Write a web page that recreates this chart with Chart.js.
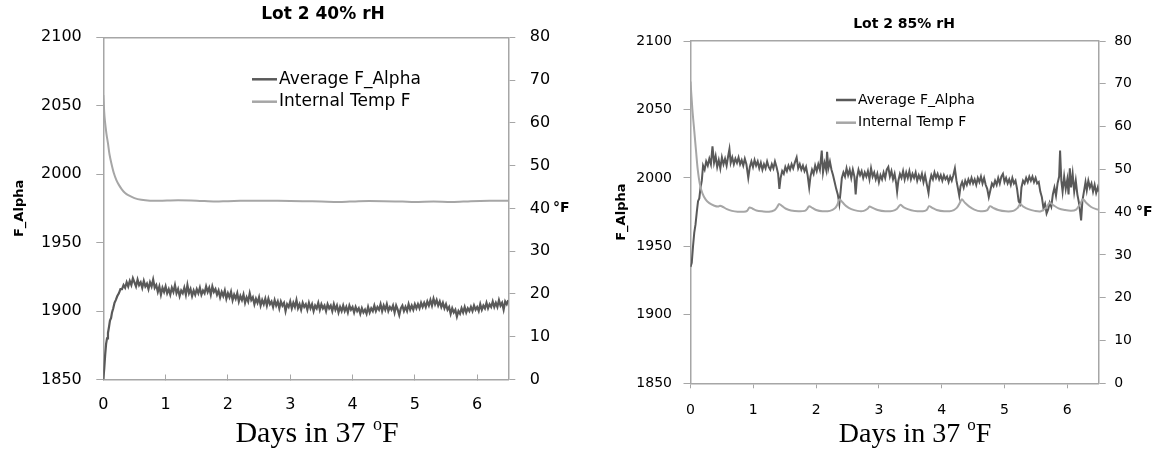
<!DOCTYPE html>
<html>
<head>
<meta charset="utf-8">
<title>Lot 2 F_Alpha vs internal temperature</title>
<script src="https://cdn.jsdelivr.net/npm/chart.js@4.4.1/dist/chart.umd.min.js"></script>
<style>
  html, body { margin: 0; padding: 0; background: #fff; }
  #wrap { position: relative; width: 1158px; height: 450px; overflow: hidden; }
  #wrap canvas { position: absolute; top: 0; }
  #chart40 { left: 0; }
  #chart85 { left: 580px; }
</style>
</head>
<body>
<div id="wrap">
  <canvas id="chart40" width="580" height="450"></canvas>
  <canvas id="chart85" width="578" height="450"></canvas>
</div>
<script>
// Axis ranges and tick steps (same for both panels)
var dayRange = [0, 6.5];
var dayStep = 1;
var alphaRange = [1850, 2100];
var alphaStep = 50;
var tempRange = [0, 80];
var tempStep = 10;

var seriesNames = ['Average F_Alpha', 'Internal Temp F'];

// Lot 2 40% rH - [day, value]
var lot40Alpha = [
  [0,1850],[0.015,1858],[0.03,1868],[0.045,1876],[0.06,1880],[0.075,1884],[0.09,1888],[0.107,1893],
  [0.125,1895],[0.14,1899],[0.16,1902],[0.18,1906],[0.2,1908],[0.225,1911],[0.25,1913],[0.275,1916],
  [0.3,1916],[0.325,1919],[0.35,1917],[0.375,1921],[0.4,1918],[0.425,1922],[0.45,1919],[0.475,1924],
  [0.5,1921],[0.525,1918],[0.55,1923],[0.575,1919],[0.6,1921],[0.625,1917],[0.65,1922],[0.675,1918],
  [0.7,1920],[0.725,1916],[0.75,1921],[0.775,1918],[0.8,1923],[0.825,1917],[0.85,1919],[0.875,1914],
  [0.9,1918],[0.925,1912],[0.95,1917],[0.975,1914],[1.0,1918],[1.025,1913],[1.05,1916],[1.075,1912],
  [1.1,1917],[1.125,1914],[1.15,1919],[1.175,1913],[1.2,1916],[1.225,1911],[1.25,1915],[1.275,1913],
  [1.3,1917],[1.325,1912],[1.35,1919],[1.375,1913],[1.4,1916],[1.425,1911],[1.45,1915],[1.475,1912],
  [1.5,1916],[1.525,1913],[1.55,1917],[1.575,1912],[1.6,1915],[1.625,1913],[1.65,1918],[1.675,1914],
  [1.7,1917],[1.725,1912],[1.75,1918],[1.775,1914],[1.8,1916],[1.825,1912],[1.85,1915],[1.875,1910],
  [1.9,1914],[1.925,1911],[1.95,1915],[1.975,1909],[2.0,1913],[2.025,1910],[2.05,1914],[2.075,1908],
  [2.1,1912],[2.125,1909],[2.15,1913],[2.175,1907],[2.2,1911],[2.225,1908],[2.25,1912],[2.275,1906],
  [2.3,1910],[2.325,1907],[2.35,1913],[2.375,1908],[2.4,1910],[2.425,1905],[2.45,1909],[2.475,1906],
  [2.5,1910],[2.525,1904],[2.55,1908],[2.575,1905],[2.6,1909],[2.625,1904],[2.65,1909],[2.675,1905],
  [2.7,1907],[2.725,1903],[2.75,1908],[2.775,1904],[2.8,1907],[2.825,1902],[2.85,1907],[2.875,1904],
  [2.9,1906],[2.925,1900],[2.95,1905],[2.975,1903],[3.0,1907],[3.025,1902],[3.05,1906],[3.075,1903],
  [3.1,1908],[3.125,1902],[3.15,1905],[3.175,1901],[3.2,1906],[3.225,1903],[3.25,1905],[3.275,1901],
  [3.3,1906],[3.325,1902],[3.35,1905],[3.375,1900],[3.4,1904],[3.425,1902],[3.45,1906],[3.475,1901],
  [3.5,1905],[3.525,1902],[3.55,1904],[3.575,1900],[3.6,1905],[3.625,1902],[3.65,1904],[3.675,1900],
  [3.7,1905],[3.725,1901],[3.75,1904],[3.775,1899],[3.8,1903],[3.825,1900],[3.85,1904],[3.875,1900],
  [3.9,1903],[3.925,1899],[3.95,1904],[3.975,1901],[4.0,1903],[4.025,1899],[4.05,1903],[4.075,1900],
  [4.1,1902],[4.125,1898],[4.15,1902],[4.175,1899],[4.2,1901],[4.225,1898],[4.25,1903],[4.275,1899],
  [4.3,1902],[4.325,1900],[4.35,1904],[4.375,1900],[4.4,1903],[4.425,1901],[4.45,1905],[4.475,1900],
  [4.5,1904],[4.525,1901],[4.55,1905],[4.575,1900],[4.6,1903],[4.625,1901],[4.65,1904],[4.675,1899],
  [4.7,1904],[4.725,1901],[4.75,1897],[4.775,1902],[4.8,1904],[4.825,1900],[4.85,1903],[4.875,1900],
  [4.9,1905],[4.925,1901],[4.95,1904],[4.975,1901],[5.0,1905],[5.025,1902],[5.05,1905],[5.075,1902],
  [5.1,1906],[5.125,1903],[5.15,1906],[5.175,1903],[5.2,1907],[5.225,1904],[5.25,1908],[5.275,1904],
  [5.3,1909],[5.325,1905],[5.35,1908],[5.375,1904],[5.4,1907],[5.425,1903],[5.45,1906],[5.475,1902],
  [5.5,1905],[5.525,1901],[5.55,1903],[5.575,1898],[5.6,1902],[5.625,1899],[5.65,1901],[5.675,1896],
  [5.7,1900],[5.725,1898],[5.75,1902],[5.775,1899],[5.8,1903],[5.825,1899],[5.85,1902],[5.875,1900],
  [5.9,1903],[5.925,1900],[5.95,1904],[5.975,1901],[6.0,1903],[6.025,1900],[6.05,1905],[6.075,1901],
  [6.1,1904],[6.125,1902],[6.15,1906],[6.175,1902],[6.2,1905],[6.225,1903],[6.25,1907],[6.275,1903],
  [6.3,1906],[6.325,1903],[6.35,1908],[6.375,1904],[6.4,1906],[6.425,1901],[6.45,1907],[6.475,1905],
  [6.5,1908]
];
var lot40Temp = [
  [0,66.5],[0.02,61.4],[0.05,57.5],[0.075,55.2],[0.1,52.6],[0.13,50.5],[0.17,48.2],[0.21,46.6],
  [0.25,45.5],[0.3,44.4],[0.35,43.6],[0.4,43.1],[0.5,42.4],[0.61,42],[0.75,41.8],[0.9,41.8],
  [1.2,41.9],[1.5,41.8],[1.8,41.6],[2.0,41.7],[2.4,41.8],[2.8,41.8],[3.2,41.7],[3.5,41.6],
  [3.8,41.5],[4.1,41.7],[4.5,41.7],[4.8,41.6],[5.0,41.5],[5.3,41.6],[5.6,41.5],[5.9,41.7],
  [6.2,41.8],[6.5,41.8]
];

// Lot 2 85% rH
var lot85Alpha = [
  [0,1935],[0.02,1938],[0.04,1950],[0.06,1960],[0.08,1966],[0.1,1975],[0.12,1983],[0.14,1985],
  [0.16,1993],[0.18,1998],[0.2,2009],[0.225,2006],[0.25,2012],[0.275,2009],[0.3,2014],[0.325,2010],
  [0.35,2023],[0.375,2011],[0.4,2016],[0.425,2008],[0.45,2013],[0.475,2007],[0.5,2015],[0.525,2010],
  [0.55,2014],[0.575,2009],[0.6,2016],[0.62,2021],[0.64,2011],[0.665,2015],[0.69,2010],[0.715,2014],
  [0.74,2011],[0.765,2015],[0.79,2010],[0.815,2013],[0.84,2009],[0.865,2014],[0.89,2010],[0.92,2000],
  [0.945,2008],[0.97,2012],[0.995,2008],[1.02,2013],[1.045,2009],[1.07,2012],[1.095,2007],[1.12,2011],
  [1.145,2006],[1.17,2010],[1.195,2007],[1.22,2012],[1.245,2008],[1.27,2006],[1.295,2010],[1.32,2007],
  [1.345,2012],[1.37,2008],[1.395,2003],[1.415,1992],[1.435,2000],[1.46,2005],[1.485,2003],[1.51,2008],
  [1.535,2005],[1.56,2009],[1.585,2006],[1.61,2010],[1.635,2007],[1.66,2011],[1.69,2015],[1.715,2007],
  [1.74,2010],[1.765,2006],[1.79,2009],[1.815,2005],[1.84,2008],[1.865,2002],[1.89,1993],[1.91,2001],
  [1.935,2006],[1.96,2003],[1.985,2009],[2.01,2005],[2.035,2010],[2.06,2006],[2.09,2020],[2.11,2004],
  [2.135,2011],[2.16,2006],[2.175,2019],[2.195,2007],[2.22,2012],[2.245,2006],[2.27,2002],[2.295,1997],
  [2.32,1992],[2.345,1988],[2.37,1981],[2.39,1990],[2.41,2000],[2.435,2004],[2.46,2001],[2.485,2007],
  [2.51,2002],[2.535,2006],[2.56,2000],[2.585,2006],[2.61,2001],[2.63,1988],[2.65,2000],[2.675,2006],
  [2.7,2002],[2.725,2005],[2.75,2000],[2.775,2004],[2.8,2001],[2.825,2005],[2.85,1999],[2.875,2007],
  [2.9,2001],[2.925,2004],[2.95,1999],[2.975,2003],[3.0,1997],[3.025,2002],[3.05,1999],[3.075,2004],
  [3.1,2000],[3.125,2006],[3.15,2008],[3.175,2001],[3.2,2005],[3.225,1999],[3.25,2003],[3.275,1996],
  [3.29,1990],[3.31,1998],[3.335,2003],[3.36,2000],[3.385,2005],[3.41,1999],[3.435,2004],[3.46,2000],
  [3.485,2005],[3.51,1999],[3.535,2003],[3.56,2000],[3.585,2004],[3.61,1998],[3.635,2002],[3.66,1999],
  [3.685,2003],[3.71,1997],[3.735,2002],[3.76,1996],[3.79,1989],[3.81,1997],[3.835,2002],[3.86,1999],
  [3.885,2004],[3.91,2000],[3.935,2003],[3.96,1999],[3.985,2002],[4.01,1998],[4.035,2002],[4.06,1999],
  [4.085,2001],[4.11,1997],[4.135,2001],[4.16,1998],[4.185,2002],[4.21,2007],[4.235,1998],[4.26,1992],
  [4.28,1987],[4.3,1994],[4.325,1997],[4.35,1993],[4.375,1998],[4.4,1995],[4.425,1999],[4.45,1996],
  [4.475,2000],[4.5,1996],[4.525,1999],[4.55,1995],[4.575,2000],[4.6,1997],[4.625,2001],[4.65,1996],
  [4.675,2000],[4.7,1995],[4.725,1992],[4.75,1986],[4.775,1991],[4.8,1996],[4.825,1994],[4.85,1998],
  [4.875,1995],[4.9,2000],[4.925,1996],[4.95,2001],[4.975,2003],[5.0,1997],[5.025,2000],[5.05,1996],
  [5.075,1999],[5.1,1995],[5.125,2000],[5.15,1996],[5.175,1998],[5.2,1992],[5.225,1983],[5.25,1981],
  [5.27,1993],[5.295,1998],[5.32,1996],[5.345,2000],[5.37,1997],[5.395,2001],[5.42,1998],[5.445,2001],
  [5.47,1997],[5.495,2000],[5.52,1996],[5.545,1997],[5.57,1990],[5.595,1986],[5.62,1978],[5.645,1981],
  [5.67,1974],[5.695,1977],[5.72,1982],[5.745,1979],[5.77,1988],[5.795,1993],[5.82,1987],[5.845,1996],
  [5.87,2001],[5.885,2020],[5.905,1998],[5.925,1990],[5.95,2001],[5.975,1992],[6.0,1999],[6.02,1988],
  [6.04,2007],[6.06,1993],[6.085,2003],[6.11,1990],[6.135,1998],[6.16,1988],[6.185,1982],[6.205,1975],
  [6.22,1969],[6.24,1983],[6.265,1990],[6.29,1997],[6.31,1991],[6.335,1998],[6.36,1993],[6.385,1996],
  [6.41,1990],[6.435,1995],[6.46,1989],[6.485,1993],[6.5,1990]
];
var lot85Temp = [
  [0,70.5],[0.03,64],[0.06,59],[0.09,54],[0.115,50],[0.15,46.5],[0.19,44.4],[0.24,43],
  [0.3,42.1],[0.38,41.5],[0.44,41.3],[0.47,41.5],[0.52,41.2],[0.58,40.7],[0.66,40.3],[0.75,40.1],
  [0.85,40.1],[0.9,40.3],[0.94,41.1],[0.99,40.8],[1.05,40.4],[1.14,40.2],[1.25,40.1],[1.34,40.5],
  [1.38,41.2],[1.41,41.9],[1.46,41.4],[1.52,40.8],[1.6,40.4],[1.72,40.2],[1.82,40.3],[1.86,40.8],
  [1.89,41.4],[1.94,41.0],[2.0,40.5],[2.1,40.2],[2.22,40.3],[2.3,40.9],[2.34,41.8],[2.37,43.0],
  [2.42,42.3],[2.48,41.4],[2.56,40.7],[2.66,40.3],[2.76,40.3],[2.82,40.8],[2.85,41.3],[2.9,41.0],
  [2.98,40.5],[3.1,40.2],[3.22,40.3],[3.29,40.8],[3.34,41.7],[3.39,41.2],[3.46,40.7],[3.56,40.3],
  [3.7,40.2],[3.76,40.5],[3.8,41.4],[3.85,41.0],[3.92,40.5],[4.04,40.2],[4.16,40.3],[4.24,41.0],
  [4.29,42.2],[4.32,43.0],[4.37,42.2],[4.44,41.3],[4.52,40.6],[4.62,40.2],[4.72,40.4],[4.77,41.4],
  [4.82,41.0],[4.9,40.5],[5.02,40.2],[5.14,40.3],[5.21,41.0],[5.25,41.9],[5.3,41.3],[5.38,40.7],
  [5.48,40.3],[5.58,40.2],[5.66,41.0],[5.72,42.2],[5.78,41.6],[5.86,40.9],[5.96,40.5],[6.06,40.3],
  [6.14,40.6],[6.2,41.8],[6.25,43.0],[6.3,42.2],[6.38,41.2],[6.46,40.7],[6.5,40.6]
];

var AXIS_GREY = '#a6a6a6';
var ALPHA_COLOR = '#595959';
var TEMP_COLOR = '#a6a6a6';
var SANS = '"DejaVu Sans", sans-serif';
var SERIF = '"Liberation Serif", "Times New Roman", serif';

function toPoints(pairs) {
  return pairs.map(function(p) { return { x: p[0], y: p[1] }; });
}

// plain numbers on the axes, no thousands separator
function plainTick(value) {
  return String(value);
}

// Texts Chart.js can't place where Excel put them: title, inner legend, deg F, x title
var chartText = {
  id: 'chartText',
  afterDraw: function(chart, args, opts) {
    var ctx = chart.ctx;
    ctx.save();
    ctx.fillStyle = '#000';

    // chart title
    ctx.font = 'bold ' + opts.titleSize + 'px ' + SANS;
    ctx.textAlign = 'center';
    ctx.textBaseline = 'middle';
    ctx.fillText(opts.title, opts.titleX, opts.titleY);

    // legend inside the plot
    ctx.font = opts.legendSize + 'px ' + SANS;
    ctx.textAlign = 'left';
    chart.data.datasets.forEach(function(ds, i) {
      var y = opts.legendY + i * opts.legendGap;
      ctx.strokeStyle = ds.borderColor;
      ctx.lineWidth = 2.5;
      ctx.beginPath();
      ctx.moveTo(opts.legendX, y);
      ctx.lineTo(opts.legendX + opts.legendLine, y);
      ctx.stroke();
      ctx.fillText(ds.label, opts.legendX + opts.legendLine + 2, y);
    });

    // secondary axis unit, level with the 40 tick
    ctx.font = 'bold ' + opts.unitSize + 'px ' + SANS;
    ctx.fillText('\u00b0F', opts.unitX, chart.scales.y1.getPixelForValue(40));

    // x axis title with a superscript o
    var big = opts.xTitleSize + 'px ' + SERIF;
    var small = Math.round(opts.xTitleSize * 0.6) + 'px ' + SERIF;
    ctx.textBaseline = 'alphabetic';
    ctx.font = big;
    var w1 = ctx.measureText('Days in 37 ').width;
    var w3 = ctx.measureText('F').width;
    ctx.font = small;
    var w2 = ctx.measureText('o').width;
    var x = opts.xTitleX - (w1 + w2 + w3) / 2;
    ctx.font = big;
    ctx.fillText('Days in 37 ', x, opts.xTitleBase);
    ctx.font = small;
    ctx.fillText('o', x + w1, opts.xTitleBase - opts.xTitleSize * 0.4);
    ctx.font = big;
    ctx.fillText('F', x + w1 + w2, opts.xTitleBase);

    ctx.restore();
  }
};

function buildChart(canvasId, alpha, temp, g) {
  var fixWidth = function(w) { return function(scale) { scale.width = w; }; };
  var fixHeight = function(h) { return function(scale) { scale.height = h; }; };

  return new Chart(document.getElementById(canvasId), {
    type: 'line',
    data: {
      datasets: [
        {
          label: seriesNames[0], data: toPoints(alpha), yAxisID: 'y', order: 2,
          borderColor: ALPHA_COLOR, borderWidth: g.alphaWidth, pointRadius: 0, tension: 0
        },
        {
          label: seriesNames[1], data: toPoints(temp), yAxisID: 'y1', order: 1,
          borderColor: TEMP_COLOR, borderWidth: 2, pointRadius: 0, tension: 0.3
        }
      ]
    },
    options: {
      responsive: false,
      animation: false,
      events: [],
      layout: { padding: { top: g.top, left: 0, right: 0, bottom: 0 } },
      plugins: {
        legend: { display: false },
        title: { display: false },
        tooltip: { enabled: false },
        chartText: g.text
      },
      scales: {
        x: {
          type: 'linear', position: 'bottom', min: dayRange[0], max: dayRange[1],
          ticks: {
            stepSize: dayStep, includeBounds: false, maxRotation: 0, autoSkip: false,
            color: '#000', font: { family: SANS, size: g.tickSize }, padding: g.xPad, callback: plainTick
          },
          grid: { drawOnChartArea: false, drawTicks: true, tickLength: g.xTick, color: AXIS_GREY, lineWidth: 1 },
          border: { color: AXIS_GREY, width: 1.5 },
          afterFit: fixHeight(g.xHeight)
        },
        xTop: {
          type: 'linear', position: 'top', min: dayRange[0], max: dayRange[1],
          ticks: { display: false },
          grid: { drawOnChartArea: false, drawTicks: false },
          border: { color: AXIS_GREY, width: 1.5 },
          afterFit: fixHeight(0)
        },
        y: {
          position: 'left', min: alphaRange[0], max: alphaRange[1],
          ticks: {
            stepSize: alphaStep, color: '#000', font: { family: SANS, size: g.tickSize },
            padding: g.yPad, callback: plainTick
          },
          grid: { drawOnChartArea: false, tickLength: 7, color: AXIS_GREY, lineWidth: 1 },
          border: { color: AXIS_GREY, width: 1.5 },
          title: {
            display: true, text: 'F_Alpha', color: '#000',
            font: { family: SANS, size: 13, weight: 'bold' }, padding: { top: g.yTitlePad, bottom: 0 }
          },
          afterFit: fixWidth(g.yWidth)
        },
        y1: {
          position: 'right', min: tempRange[0], max: tempRange[1],
          ticks: {
            stepSize: tempStep, color: '#000', font: { family: SANS, size: g.tickSize },
            padding: g.y1Pad, callback: plainTick
          },
          grid: { drawOnChartArea: false, tickLength: 7, color: AXIS_GREY, lineWidth: 1 },
          border: { color: AXIS_GREY, width: 1.5 },
          afterFit: fixWidth(g.y1Width)
        }
      }
    },
    plugins: [chartText]
  });
}

document.addEventListener('DOMContentLoaded', function() {
  buildChart('chart40', lot40Alpha, lot40Temp, {
    top: 37.3, xHeight: 70.5, yWidth: 103.3, y1Width: 71.7,
    tickSize: 16, xTick: -5, xPad: 21, yPad: 14.5, y1Pad: 14.5, yTitlePad: 12,
    alphaWidth: 2.2,
    text: {
      title: 'Lot 2 40% rH', titleSize: 17, titleX: 323, titleY: 15,
      legendX: 252, legendY: 79.3, legendGap: 22.4, legendLine: 25, legendSize: 17,
      unitX: 553, unitSize: 14,
      xTitleX: 317, xTitleBase: 441.5, xTitleSize: 30
    }
  });

  buildChart('chart85', lot85Alpha, lot85Temp, {
    top: 41, xHeight: 66.7, yWidth: 110.5, y1Width: 59.3,
    tickSize: 14, xTick: 5, xPad: 14, yPad: 11.5, y1Pad: 8.5, yTitlePad: 34,
    alphaWidth: 2,
    text: {
      title: 'Lot 2 85% rH', titleSize: 14, titleX: 324, titleY: 24,
      legendX: 256, legendY: 100, legendGap: 22.7, legendLine: 20, legendSize: 14,
      unitX: 556, unitSize: 14,
      xTitleX: 335, xTitleBase: 441.5, xTitleSize: 28
    }
  });
});
</script>
</body>
</html>
